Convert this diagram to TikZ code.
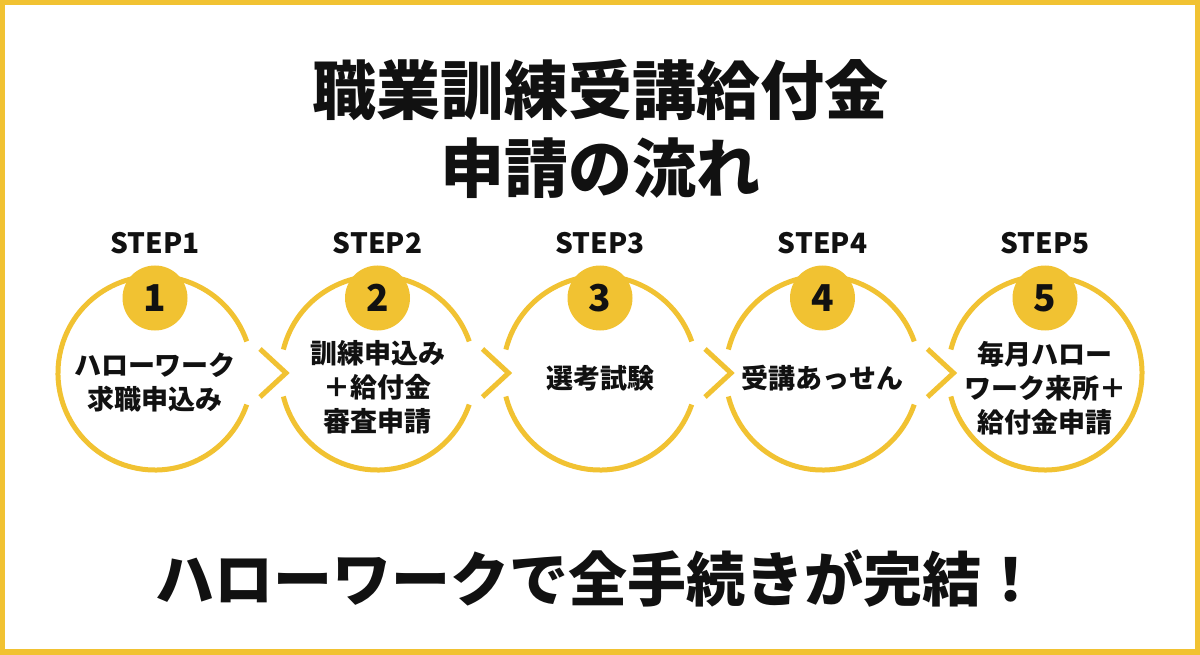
\documentclass[tikz,border=0pt]{standalone}
\usepackage{fontspec}
\setmainfont{Noto Sans CJK JP}
\definecolor{stepyellow}{HTML}{F1C232}
\definecolor{inkblack}{HTML}{111111}

\begin{document}
\begin{tikzpicture}[x=1pt,y=-1pt,
  ring/.style={draw=stepyellow,line width=5pt},
  chevron/.style={draw=stepyellow,line width=5pt},
  badge/.style={circle,fill=stepyellow,minimum size=65pt,inner sep=0pt,
    text=inkblack,font=\fontsize{37}{37}\selectfont\bfseries},
  steplabel/.style={text=inkblack,font=\fontsize{28}{28}\selectfont\bfseries},
  stepbody/.style={align=center,text=inkblack,font=\fontsize{27}{34}\selectfont\bfseries},
  headline/.style={text=inkblack,font=\fontsize{64}{64}\selectfont\bfseries}]

% yellow frame
\fill[stepyellow] (0,0) rectangle (1200,655);
\fill[white] (5,5) rectangle (1195,649);

% title
\node[headline] (title1) at (600,90) {職業訓練受講給付金};
\node[headline] (title2) at (600,168) {申請の流れ};

% circle centres
\foreach \i in {1,...,5}
  \coordinate (c\i) at ({155+222.5*(\i-1)},373);

% rings, open where the chevrons pass
\draw[ring] (c1) ++(19:97) arc[start angle=19,end angle=341,radius=97];
\foreach \i in {2,3,4}{
  \draw[ring] (c\i) ++(19:97) arc[start angle=19,end angle=166,radius=97];
  \draw[ring] (c\i) ++(194:97) arc[start angle=194,end angle=341,radius=97];
}
\draw[ring] (c5) ++(-166:97) arc[start angle=-166,end angle=166,radius=97];

% chevrons
\foreach \i in {1,...,4}
  \draw[chevron] ([shift={(105,-24)}]c\i) -- ([shift={(131,0)}]c\i) -- ([shift={(105,24)}]c\i);

% step labels and number badges
\foreach \i in {1,...,5}{
  \node[steplabel] (step\i) at ([shift={(0,-130)}]c\i) {STEP\i};
  \node[badge] (badge\i) at ([shift={(0,-75)}]c\i) {\i};
}

% texts in the rings
\node[stepbody] (body1) at ([shift={(0,9)}]c1) {ハローワーク\\求職申込み};
\node[stepbody] (body2) at ([shift={(0,14)}]c2) {訓練申込み\\＋給付金\\審査申請};
\node[stepbody] (body3) at ([shift={(0,5)}]c3) {選考試験};
\node[stepbody] (body4) at ([shift={(0,5)}]c4) {受講あっせん};
\node[stepbody] (body5) at ([shift={(0,15)}]c5) {毎月ハロー\\ワーク来所＋\\給付金申請};

% closing line
\node[text=inkblack,font=\fontsize{59}{59}\selectfont\bfseries] (closing) at (598,579) {ハローワークで全手続きが完結！};
\end{tikzpicture}
\end{document}
